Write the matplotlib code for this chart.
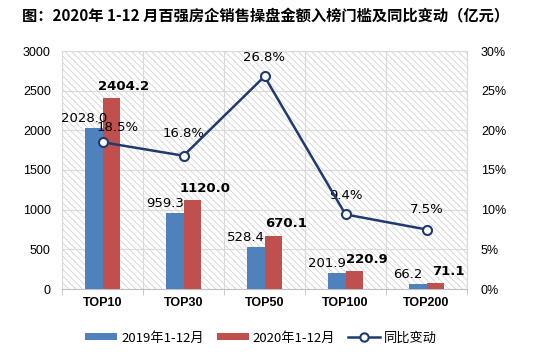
import matplotlib
matplotlib.use("Agg")
import matplotlib.pyplot as plt
import numpy as np
from matplotlib.patches import Patch, Rectangle
from matplotlib.lines import Line2D
from matplotlib.ticker import FuncFormatter, MultipleLocator

plt.rcParams['font.family'] = ['Liberation Sans', 'Noto Sans CJK SC', 'DejaVu Sans']
plt.rcParams['hatch.linewidth'] = 0.6

title = "图：2020年 1-12 月百强房企销售操盘金额入榜门槛及同比变动（亿元）"
categories = ["TOP10", "TOP30", "TOP50", "TOP100", "TOP200"]
v2019 = [2028.0, 959.3, 528.4, 201.9, 66.2]
v2020 = [2404.2, 1120.0, 670.1, 220.9, 71.1]
yoy = [18.5, 16.8, 26.8, 9.4, 7.5]
series_names = ["2019年1-12月", "2020年1-12月", "同比变动"]

c_blue = '#4F81BD'
c_red = '#C0504D'
c_line = '#1F3A70'
grid_c = '#d9d9d9'

fig = plt.figure(figsize=(5.33, 3.59), dpi=100)
ax = fig.add_axes([62/533, 1-289/359, 405/533, 238/359])
ax.add_patch(Rectangle((0, 0), 1, 1, transform=ax.transAxes, facecolor='white',
                       edgecolor='#d2d2d2', linewidth=0, hatch='\\\\\\\\\\', zorder=0))

x = np.arange(len(categories))
w = 0.222
ax.bar(x - w/2, v2019, w, color=c_blue, zorder=3)
ax.bar(x + w/2, v2020, w, color=c_red, zorder=3)

ax.set_xlim(-0.5, len(categories) - 0.5)
ax.set_ylim(0, 3000)
ax.yaxis.set_major_locator(MultipleLocator(500))
ax.set_xticks(x)
ax.set_xticklabels(categories, fontweight='bold', fontsize=9)
ax.set_xticks(np.arange(-0.5, len(categories)), minor=True)
ax.tick_params(axis='x', which='major', length=0, pad=6)
ax.tick_params(axis='x', which='minor', length=4, color='#bfbfbf')
ax.tick_params(axis='y', length=0, labelsize=9, pad=8, colors='#000000')
ax.grid(axis='y', color=grid_c, linewidth=0.8, zorder=1)
ax.grid(axis='x', which='minor', color=grid_c, linewidth=0.8, zorder=1)
ax.set_axisbelow(True)
for s in ['left', 'right', 'top']:
    ax.spines[s].set_color(grid_c)
    ax.spines[s].set_linewidth(0.8)
ax.spines['bottom'].set_color('#bfbfbf')
ax.spines['bottom'].set_linewidth(0.8)

for i in range(len(categories)):
    ax.annotate(f"{v2019[i]:.1f}", (x[i] - w/2, v2019[i]), xytext=(-7, 2),
                textcoords='offset points', ha='center', va='bottom',
                fontsize=9.5, family=['DejaVu Sans'], zorder=5)
    ax.annotate(f"{v2020[i]:.1f}", (x[i] + w/2, v2020[i]), xytext=(9, 4),
                textcoords='offset points', ha='center', va='bottom',
                fontsize=9.5, fontweight='bold', family=['DejaVu Sans'], zorder=5)

ax2 = ax.twinx()
ax2.set_ylim(0, 30)
ax2.yaxis.set_major_locator(MultipleLocator(5))
ax2.yaxis.set_major_formatter(FuncFormatter(lambda v, p: f"{v:.0f}%"))
ax2.tick_params(axis='y', length=0, labelsize=9, pad=10)
for s in ax2.spines.values():
    s.set_visible(False)
ax2.plot(x, yoy, color=c_line, linewidth=1.8, marker='o', markersize=6.5,
         markerfacecolor='white', markeredgecolor=c_line, markeredgewidth=1.5, zorder=4)
offs = [(11, 6), (0, 11), (0, 9), (0, 9), (0, 10)]
for i in range(len(categories)):
    ax2.annotate(f"{yoy[i]:.1f}%", (x[i], yoy[i]), xytext=offs[i],
                 textcoords='offset points', ha='center', va='bottom',
                 fontsize=9.5, family=['DejaVu Sans'])

fig.text(22/533, 1-15/359, title, fontsize=11, fontweight='bold',
         family=['Noto Sans CJK SC', 'DejaVu Sans'], va='center', ha='left')

handles = [Patch(facecolor=c_blue), Patch(facecolor=c_red),
           Line2D([], [], color=c_line, linewidth=1.8, marker='o', markersize=6,
                  markerfacecolor='white', markeredgewidth=1.5)]
fig.legend(handles, series_names, loc='center', bbox_to_anchor=(0.49, 1-338/359),
           ncol=3, frameon=False, handlelength=2.4, handleheight=0.45,
           handletextpad=0.3, columnspacing=1.0,
           prop={'family': ['Noto Sans CJK SC', 'DejaVu Sans'], 'size': 9.5})

fig.savefig("out.png", dpi=100)
